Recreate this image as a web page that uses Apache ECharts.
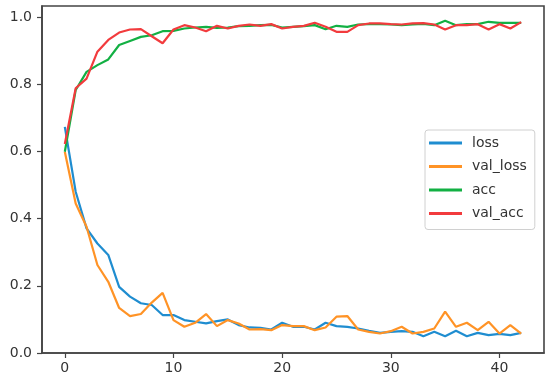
<!DOCTYPE html>
<html><head><meta charset="utf-8">
<script src="https://cdn.jsdelivr.net/npm/echarts@6/dist/echarts.min.js"></script>
<style>html,body{margin:0;padding:0;background:#fff}#c{width:550px;height:386px}</style>
</head><body><div id="c"></div>
<script>
var epochs = [];
for (var k = 0; k <= 42; k++) epochs.push(k);
var loss = [0.673,0.48,0.371,0.326,0.292,0.197,0.168,0.148,0.143,0.113,0.113,0.098,0.093,0.088,0.095,0.1,0.083,0.076,0.075,0.07,0.09,0.078,0.078,0.07,0.09,0.08,0.078,0.073,0.066,0.06,0.063,0.065,0.063,0.05,0.063,0.05,0.066,0.05,0.06,0.053,0.057,0.053,0.06];
var valLoss = [0.599,0.445,0.376,0.262,0.212,0.134,0.11,0.116,0.15,0.179,0.098,0.078,0.09,0.116,0.08,0.098,0.088,0.07,0.071,0.068,0.083,0.08,0.08,0.068,0.076,0.108,0.11,0.07,0.063,0.058,0.065,0.078,0.058,0.063,0.073,0.123,0.078,0.09,0.068,0.093,0.058,0.083,0.058];
var acc = [0.599,0.783,0.837,0.857,0.874,0.917,0.929,0.941,0.946,0.958,0.959,0.966,0.969,0.971,0.968,0.969,0.973,0.974,0.976,0.977,0.969,0.971,0.973,0.976,0.964,0.974,0.971,0.978,0.979,0.979,0.978,0.976,0.978,0.98,0.976,0.989,0.976,0.979,0.979,0.986,0.983,0.983,0.983];
var valAcc = [0.622,0.788,0.817,0.897,0.932,0.954,0.963,0.964,0.943,0.922,0.963,0.976,0.969,0.958,0.974,0.966,0.974,0.978,0.974,0.979,0.966,0.971,0.974,0.983,0.971,0.956,0.956,0.976,0.981,0.981,0.979,0.978,0.981,0.982,0.978,0.963,0.976,0.976,0.979,0.963,0.979,0.966,0.985];
var xTicks = [0,10,20,30,40];
var yTicks = [0,0.2,0.4,0.6,0.8,1.0];
var names = ['loss','val_loss','acc','val_acc'];
var colors = ['#1f8dd0','#ff9326','#12b043','#f23b3d'];

function pairs(arr){ return arr.map(function(v,i){ return [epochs[i], v]; }); }
var seriesData = [loss, valLoss, acc, valAcc];

var chart = echarts.init(document.getElementById('c'), null, {renderer:'canvas'});
chart.setOption({
  animation:false,
  backgroundColor:'#fff',
  grid:{left:42, right:6, top:6, bottom:33, show:true, borderColor:'#444', borderWidth:1.6, backgroundColor:'transparent'},
  xAxis:{type:'value', min:-2.1, max:44.1,
    axisLine:{show:true, onZero:false, lineStyle:{color:'#444', width:1.6}},
    axisTick:{show:true, length:5, lineStyle:{color:'#444', width:1.2}, customValues:xTicks},
    axisLabel:{color:'#333', fontSize:14, fontFamily:'DejaVu Sans', margin:8, customValues:xTicks, formatter:function(v){return String(v);}},
    splitLine:{show:false}},
  yAxis:{type:'value', min:0, max:1.033,
    axisLine:{show:true, onZero:false, lineStyle:{color:'#444', width:1.6}},
    axisTick:{show:true, length:5, lineStyle:{color:'#444', width:1.2}, customValues:yTicks},
    axisLabel:{color:'#333', fontSize:14, fontFamily:'DejaVu Sans', margin:10, customValues:yTicks, formatter:function(v){return v.toFixed(1);}},
    splitLine:{show:false}},
  legend:{orient:'vertical', left:425, top:130, data:names,
    icon:'rect', itemWidth:33, itemHeight:3, itemGap:7.5,
    padding:[5,8,8,4],
    backgroundColor:'#fff', borderColor:'#d0d0d0', borderWidth:1, borderRadius:3,
    textStyle:{color:'#333', fontSize:14, fontFamily:'DejaVu Sans', lineHeight:16, padding:[0,0,0,5]}},
  series: names.map(function(n,i){
    return {name:n, type:'line', data:pairs(seriesData[i]), showSymbol:false, symbol:'none',
      lineStyle:{color:colors[i], width:2.2}, itemStyle:{color:colors[i]}, z:2+i};
  })
});
</script></body></html>
